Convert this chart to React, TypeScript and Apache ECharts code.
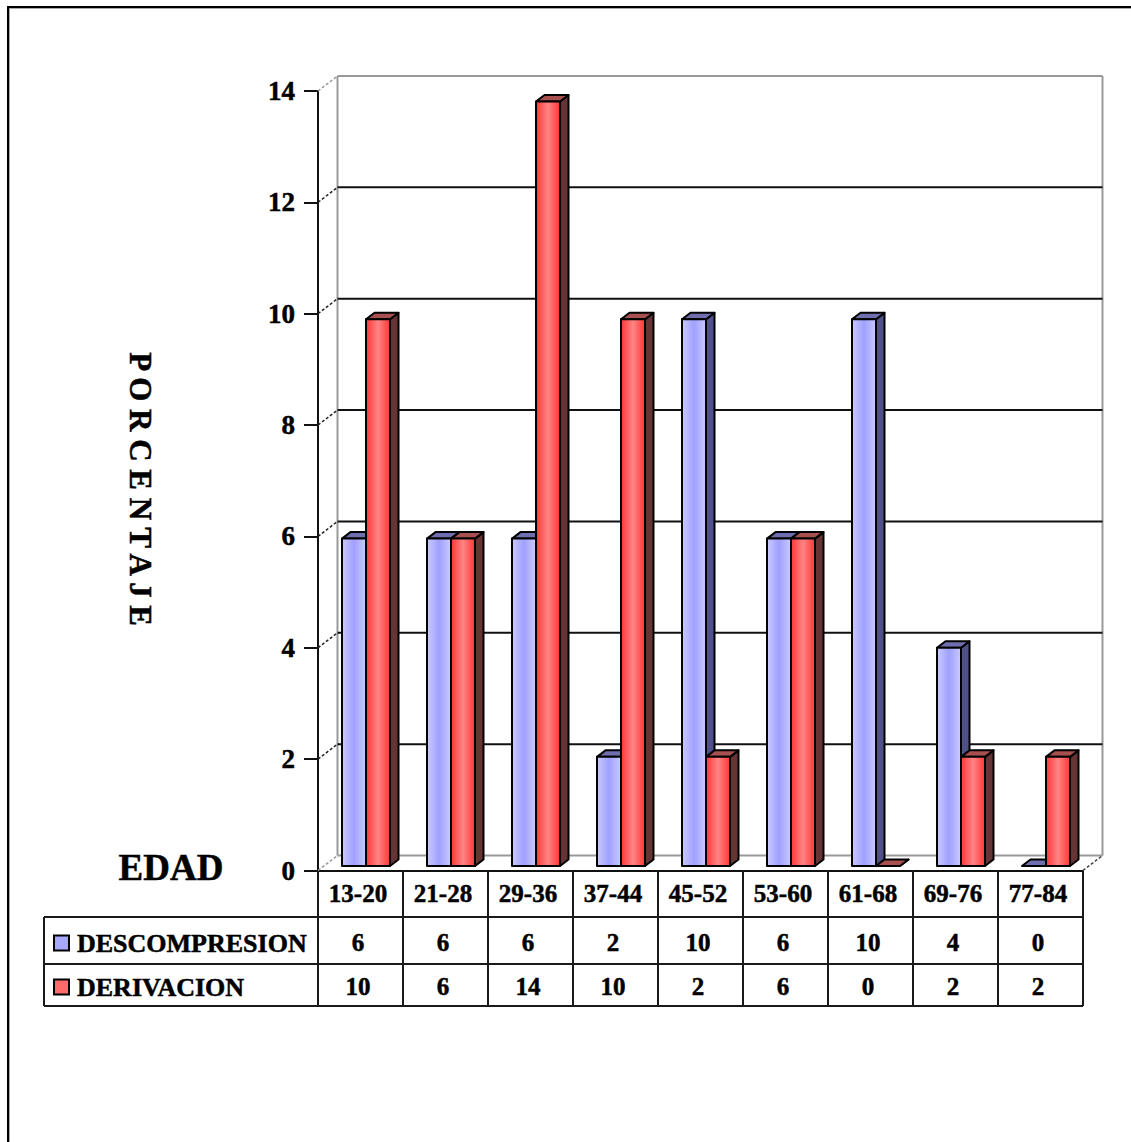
import React, { useEffect, useRef } from "react";
import * as echarts from "echarts";

const categories = ["13-20", "21-28", "29-36", "37-44", "45-52", "53-60", "61-68", "69-76", "77-84"];
const descompresionBars = [5.88, 5.88, 5.88, 1.96, 9.82, 5.88, 9.82, 3.92, 0];
const derivacionBars = [9.82, 5.88, 13.73, 9.82, 1.96, 5.88, 0, 1.96, 1.96];
const descompresionTable = ["6", "6", "6", "2", "10", "6", "10", "4", "0"];
const derivacionTable = ["10", "6", "14", "10", "2", "6", "0", "2", "2"];
const wallTicks = [0, 2, 4, 6, 8, 10, 12, 14];

const FONT = '"Liberation Serif", "Times New Roman", serif';
const L = 318, R = 1083, T = 91, B = 870.5;
const DX = 19.5, DY = -15;
const BAR_W = 24, SHIFT_X = 5.5, SHIFT_Y = -4.5, DEPTH_X = 8.5, DEPTH_Y = -6.5;
const COL = (R - L) / categories.length;
const ROW_LINES = [917, 964, 1006];
const HEAVY = 0.5;

const grad = (edge: string, mid: string) =>
  new echarts.graphic.LinearGradient(0, 0, 1, 0, [
    { offset: 0, color: edge },
    { offset: 0.5, color: mid },
    { offset: 1, color: edge },
  ]);

function barSeries(name: string, values: number[], slot: number, edge: string, mid: string, top: string, side: string, legend: string) {
  return {
    name,
    type: "custom",
    clip: false,
    silent: true,
    z: 3 + slot,
    itemStyle: { color: legend, borderColor: "#000", borderWidth: 2 },
    data: values.map((v, i) => [i, v]),
    encode: { x: 0, y: 1 },
    renderItem: (_p: any, api: any) => {
      const cat = api.value(0);
      const val = api.value(1);
      const [cx, y0raw] = api.coord([cat, 0]);
      const [, y1raw] = api.coord([cat, val]);
      const x0 = cx + SHIFT_X - BAR_W + slot * BAR_W;
      const x1 = x0 + BAR_W;
      const y0 = y0raw + SHIFT_Y;
      const y1 = y1raw + SHIFT_Y;
      const stroke = { stroke: "#000", lineWidth: 2, lineJoin: "round" };
      const children: any[] = [];
      children.push({
        type: "polygon",
        shape: { points: [[x1, y1], [x1 + DEPTH_X, y1 + DEPTH_Y], [x1 + DEPTH_X, y0 + DEPTH_Y], [x1, y0]] },
        style: { fill: side, ...stroke },
      });
      children.push({
        type: "polygon",
        shape: { points: [[x0, y1], [x0 + DEPTH_X, y1 + DEPTH_Y], [x1 + DEPTH_X, y1 + DEPTH_Y], [x1, y1]] },
        style: { fill: top, ...stroke },
      });
      if (val > 0) {
        children.push({
          type: "rect",
          shape: { x: x0, y: y1, width: BAR_W, height: y0 - y1 },
          style: { fill: grad(edge, mid), ...stroke },
        });
      }
      return { type: "group", children };
    },
  };
}

function tableGraphics() {
  const els: any[] = [];
  const line = (x1: number, y1: number, x2: number, y2: number, color = "#1a1a1a") =>
    els.push({ type: "line", silent: true, z: 1, shape: { x1, y1, x2, y2 }, style: { stroke: color, lineWidth: 2 } });
  // frame of the picture
  els.push({ type: "rect", z: 0, silent: true, shape: { x: 7, y: 6, width: 2, height: 1136 }, style: { fill: "#000" } });
  els.push({ type: "rect", z: 0, silent: true, shape: { x: 7, y: 6, width: 1124, height: 2 }, style: { fill: "#000" } });
  els.push({ type: "rect", z: 0, silent: true, shape: { x: 9, y: 8, width: 1, height: 1134 }, style: { fill: "#aaa" } });
  els.push({ type: "rect", z: 0, silent: true, shape: { x: 9, y: 8, width: 1122, height: 1 }, style: { fill: "#aaa" } });
  // grid of the data table
  for (let i = 0; i <= categories.length; i++) {
    const x = L + i * COL;
    line(x, B, x, ROW_LINES[2]);
  }
  line(44, ROW_LINES[0], R, ROW_LINES[0]);
  line(44, ROW_LINES[1], R, ROW_LINES[1]);
  line(44, ROW_LINES[2], R, ROW_LINES[2]);
  line(44, ROW_LINES[0], 44, ROW_LINES[2]);
  const cell = (text: string, i: number, y: number) =>
    els.push({
      type: "text",
      silent: true,
      z: 2,
      x: L + (i + 0.5) * COL - 2.5,
      y,
      style: { text, font: `bold 25px ${FONT}`, fill: "#000", stroke: "#000", lineWidth: HEAVY, textAlign: "center", textVerticalAlign: "middle" },
    });
  descompresionTable.forEach((t, i) => cell(t, i, 942));
  derivacionTable.forEach((t, i) => cell(t, i, 986));
  els.push({
    type: "text",
    silent: true,
    x: 171,
    y: 867,
    style: { text: "EDAD", font: `bold 37px ${FONT}`, fill: "#000", stroke: "#000", lineWidth: HEAVY, textAlign: "center", textVerticalAlign: "middle" },
  });
  els.push({
    type: "text",
    silent: true,
    x: 140,
    y: 489,
    rotation: -Math.PI / 2,
    style: { text: "P O R C E N T A J E", font: `bold 31px ${FONT}`, fill: "#000", stroke: "#000", lineWidth: HEAVY, textAlign: "center", textVerticalAlign: "middle" },
  });
  return els;
}

export default function App() {
  const ref = useRef<HTMLDivElement>(null);
  useEffect(() => {
    document.body.style.margin = "0";
    const chart = echarts.init(ref.current!, undefined, { renderer: "svg" });
    chart.setOption({
      animation: false,
      backgroundColor: "#fff",
      grid: { left: L, top: T, width: R - L, height: B - T },
      legend: {
        orient: "vertical",
        left: 48,
        top: 924,
        itemWidth: 15,
        itemHeight: 15,
        itemGap: 16,
        icon: "rect",
        selectedMode: false,
        data: [
          { name: "DESCOMPRESION", itemStyle: { color: "#a8a8ff", borderColor: "#000", borderWidth: 2 } },
          { name: "DERIVACION", itemStyle: { color: "#ff6a6a", borderColor: "#000", borderWidth: 2 } },
        ],
        textStyle: {
          fontFamily: FONT,
          fontWeight: "bold",
          fontSize: 26,
          color: "#000",
          textBorderColor: "#000",
          textBorderWidth: HEAVY,
          padding: [0, 0, 0, 3],
          height: 28,
          lineHeight: 28,
        },
      },
      xAxis: {
        type: "category",
        data: categories,
        boundaryGap: true,
        axisLine: { show: true, lineStyle: { color: "#111", width: 2 } },
        axisTick: { show: false },
        axisLabel: {
          interval: 0,
          margin: 10,
          color: "#000",
          fontFamily: FONT,
          fontWeight: "bold",
          fontSize: 25,
          textBorderColor: "#000",
          textBorderWidth: HEAVY,
          padding: [0, 5, 0, 0],
        },
        splitLine: { show: false },
      },
      yAxis: {
        type: "value",
        min: 0,
        max: 14,
        interval: 2,
        axisLine: { show: true, lineStyle: { color: "#111", width: 2 } },
        axisTick: { show: true, length: 14, lineStyle: { color: "#111", width: 2 } },
        axisLabel: {
          margin: 23,
          color: "#000",
          fontFamily: FONT,
          fontWeight: "bold",
          fontSize: 27,
          textBorderColor: "#000",
          textBorderWidth: HEAVY,
        },
        splitLine: { show: false },
      },
      graphic: { elements: tableGraphics() },
      series: [
        {
          type: "custom",
          silent: true,
          clip: false,
          z: 1,
          legendHoverLink: false,
          data: wallTicks.map((v) => [0, v]),
          encode: { y: 1 },
          renderItem: (_p: any, api: any) => {
            const v = api.value(1);
            const [, y] = api.coord([0, v]);
            const [, yBottom] = api.coord([0, 0]);
            const [, yTop] = api.coord([0, 14]);
            const edge = v === 0 || v === 14;
            const color = edge ? "#999" : "#111";
            const children: any[] = [
              {
                type: "line",
                shape: { x1: L, y1: y, x2: L + DX, y2: y + DY },
                style: { stroke: edge ? "#999" : "#222", lineWidth: 1.5, lineDash: [3, 2] },
              },
              {
                type: "line",
                shape: { x1: L + DX, y1: y + DY, x2: R + DX, y2: y + DY },
                style: { stroke: color, lineWidth: 2 },
              },
            ];
            if (v === 0) {
              children.push(
                {
                  type: "line",
                  shape: { x1: L + DX, y1: yBottom + DY, x2: L + DX, y2: yTop + DY },
                  style: { stroke: "#999", lineWidth: 2 },
                },
                {
                  type: "line",
                  shape: { x1: R + DX, y1: yBottom + DY, x2: R + DX, y2: yTop + DY },
                  style: { stroke: "#999", lineWidth: 2 },
                },
                {
                  type: "line",
                  shape: { x1: R, y1: yBottom, x2: R + DX, y2: yBottom + DY },
                  style: { stroke: "#444", lineWidth: 1.5, lineDash: [3, 2] },
                }
              );
            }
            return { type: "group", children };
          },
        },
        barSeries("DESCOMPRESION", descompresionBars, 0, "#cacaff", "#a0a0ff", "#6f6fb0", "#50508a", "#a8a8ff"),
        barSeries("DERIVACION", derivacionBars, 1, "#ff3636", "#ff8484", "#a85050", "#663434", "#ff6a6a"),
      ],
    });
    return () => chart.dispose();
  }, []);
  return <div ref={ref} style={{ position: "absolute", left: 0, top: 0, width: 1131, height: 1142 }} />;
}
